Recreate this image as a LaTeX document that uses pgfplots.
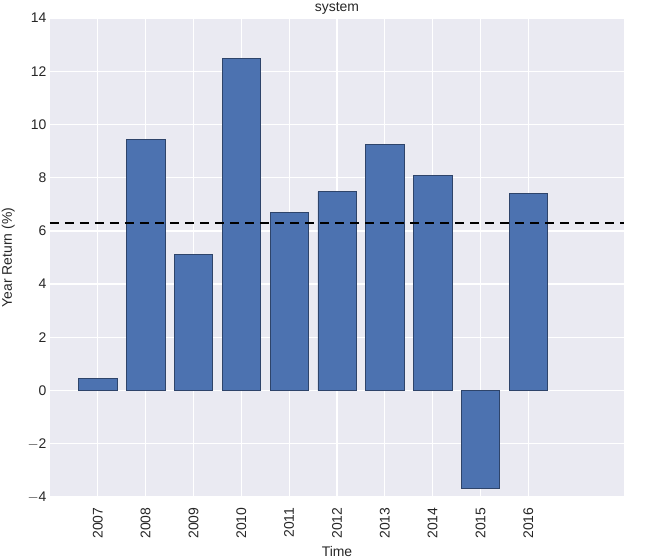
\documentclass[border=0pt]{standalone}
\usepackage{pgfplots}
\pgfplotsset{compat=1.18}
\usepackage{fontspec}
\setmainfont{Liberation Sans}
\definecolor{bg}{HTML}{EAEAF2}
\definecolor{barc}{HTML}{4C72B0}
\definecolor{txt}{HTML}{262626}
\begin{document}
\begin{tikzpicture}
\begin{axis}[
  name=ax,
  scale only axis,
  width=574bp, height=479bp,
  xmin=2006, xmax=2018,
  ymin=-4, ymax=14,
  ytick={-4,-2,0,2,4,6,8,10,12,14},
  xtick={2007,2008,2009,2010,2011,2012,2013,2014,2015,2016},
  xticklabels={2007,2008,2009,2010,2011,2012,2013,2014,2015,2016},
  xticklabel style={yshift=-7bp, rotate=90, anchor=east},
  /pgf/number format/assume math mode=true,
  /pgf/number format/.cd, 1000 sep={}, /pgfplots/.cd,
  axis background/.style={fill=bg},
  axis line style={draw=none},
  major tick length=0pt,
  grid=major,
  grid style={white, line width=1.3bp},
  tick label style={font=\fontsize{14}{16}\selectfont, text=txt},
  yticklabel={\ifdim\tick pt<0pt $-$\pgfmathparse{abs(\tick)}\pgfmathprintnumber{\pgfmathresult}\else\pgfmathprintnumber{\tick}\fi},
  title={system},
  title style={font=\fontsize{14}{16}\selectfont, text=txt, yshift=-6bp},
  xlabel={Time},
  ylabel={Year Return (\%)},
  label style={font=\fontsize{14}{16}\selectfont, text=txt},
  xlabel style={yshift=-1bp},
  ylabel style={yshift=6bp},
]
\addplot[ybar, bar width=0.8, fill=barc, draw=barc!60!black, line width=0.6bp]
coordinates {
(2007,0.45) (2008,9.43) (2009,5.11) (2010,12.48) (2011,6.69)
(2012,7.48) (2013,9.25) (2014,8.08) (2015,-3.68) (2016,7.41)
};
\addplot[black, line width=2bp, dash pattern=on 9bp off 6bp] coordinates {(2006,6.28) (2018,6.28)};
\end{axis}
\pgfresetboundingbox
\path[use as bounding box] ([xshift=-50bp,yshift=-62bp]ax.south west) rectangle ([xshift=28bp,yshift=18bp]ax.north east);
\end{tikzpicture}
\end{document}
